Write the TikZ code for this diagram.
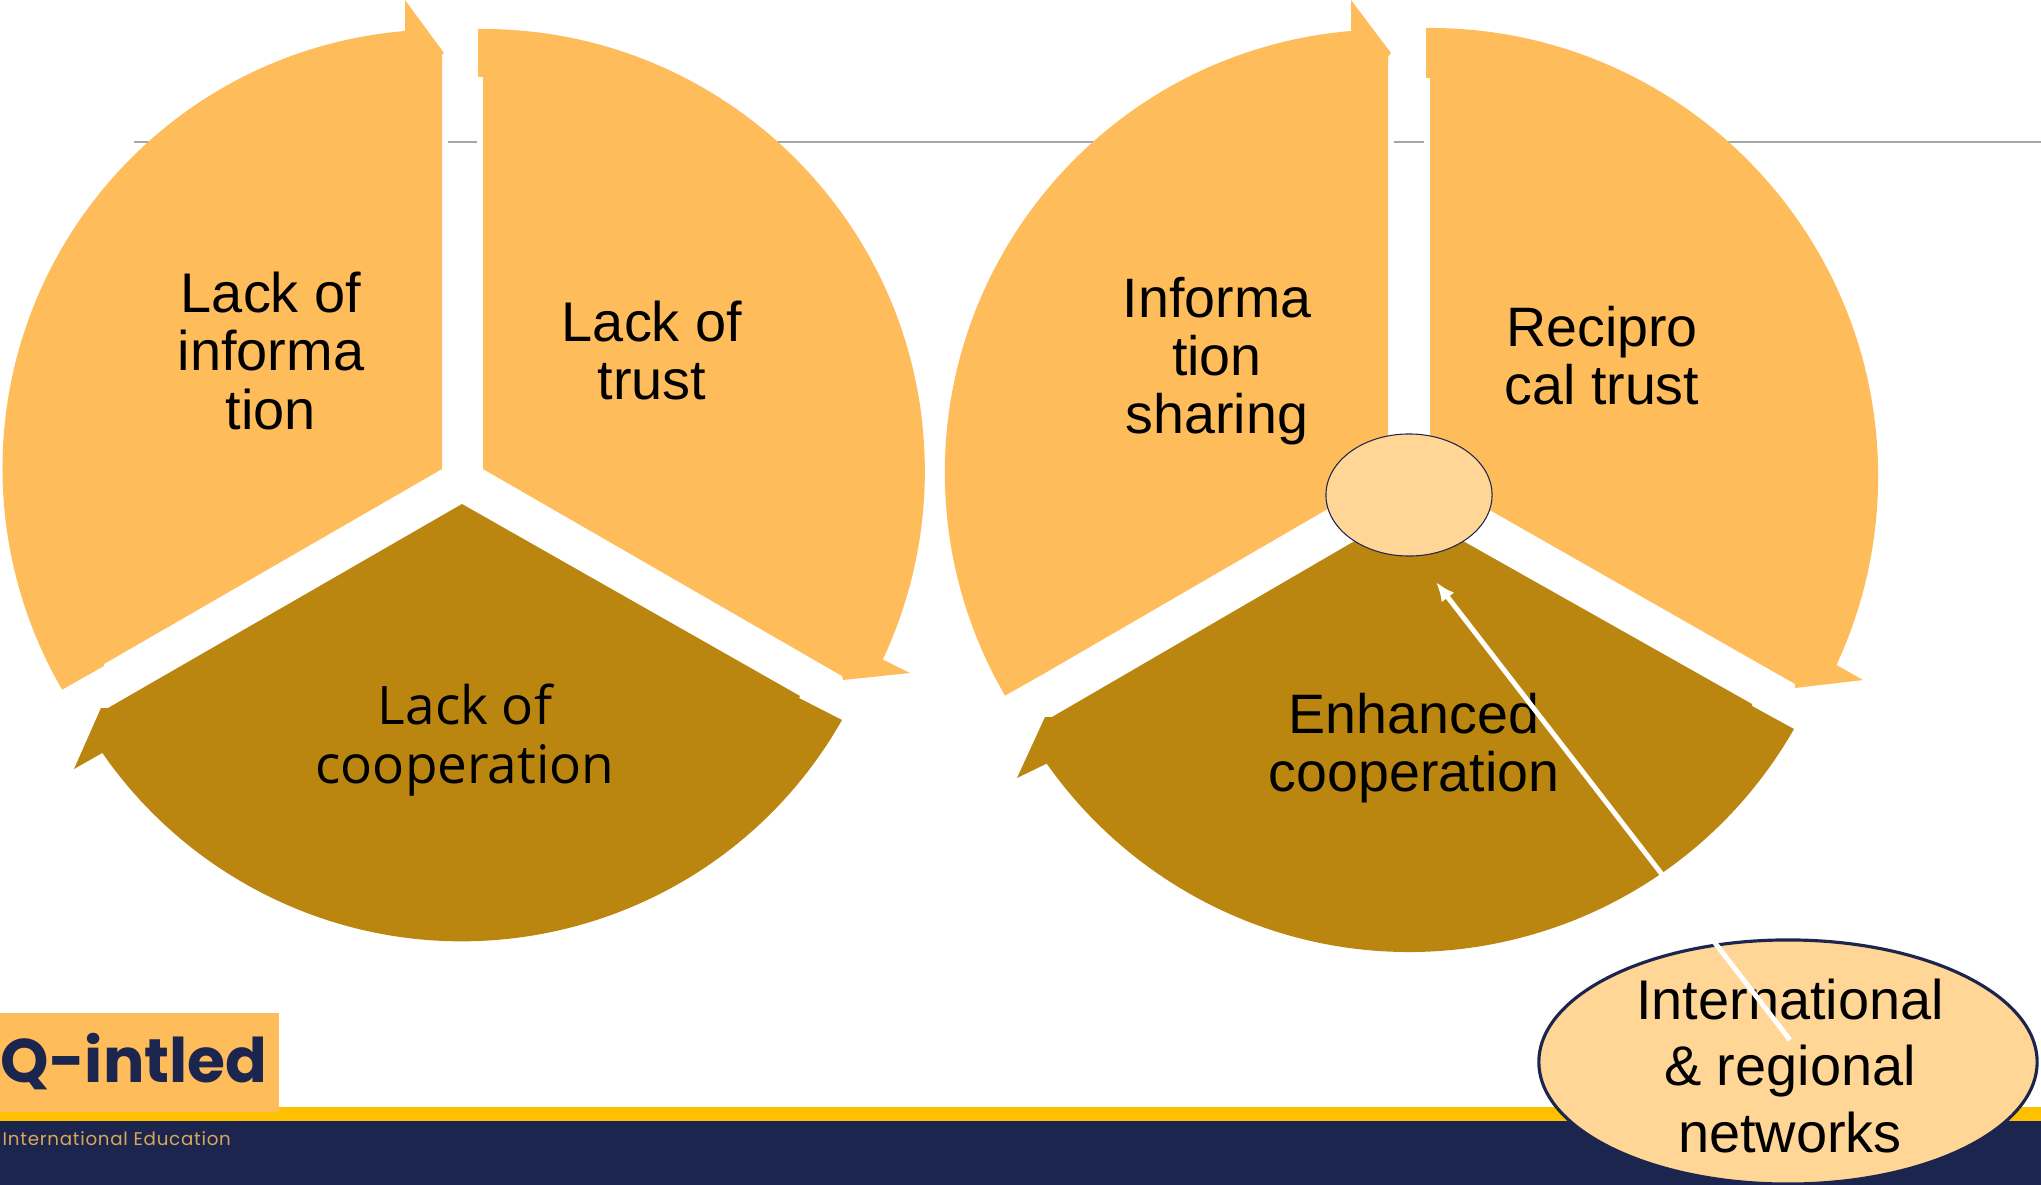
\documentclass[tikz,border=0pt]{standalone}
\usepackage{fontspec}
\setmainfont{Liberation Sans}
\newfontfamily\brownfont{Open Sans}
\newfontfamily\logofont{Poppins}
\newfontfamily\taglinefont[LetterSpace=4]{Poppins}
\usetikzlibrary{arrows.meta,positioning,shapes.geometric}
\definecolor{slicegold}{HTML}{FFBC5A}
\definecolor{slicebrown}{HTML}{BA860F}
\definecolor{palegold}{HTML}{FFD696}
\definecolor{footgold}{HTML}{FFC000}
\definecolor{footnavy}{HTML}{1B254E}
\definecolor{rulegray}{HTML}{A6A6A6}
\definecolor{subgold}{HTML}{D9A758}
\begin{document}
\begin{tikzpicture}[x=0.01cm,y=-0.01cm]
  \tikzstyle{light} = [fill=slicegold]
  \tikzstyle{dark} = [fill=slicebrown]
  \tikzstyle{rulerline} = [draw=rulegray, line width=0.8pt]
  \tikzstyle{lbl} = [align=center, inner sep=0pt, text=black, font=\fontsize{15.9}{16.5}\selectfont]
  \tikzstyle{lbltwo} = [lbl, font=\fontsize{15.8}{16.5}\selectfont]
  \tikzstyle{hub} = [ellipse, fill=palegold, draw=footnavy, inner sep=0pt]
  \useasboundingbox (0,0) rectangle (2041,1185);
  \fill[white] (0,0) rectangle (2041,1185);

  \foreach \from/\to in {134/300, 448/477, 700/1200, 1394/1424, 1600/2041}
    \draw[rulerline] (\from,142) -- (\to,142);

  \fill[footgold] (0,1107) rectangle (2041,1121);
  \fill[footnavy] (0,1120.5) rectangle (2041,1185);
  \fill[slicegold] (0,1013) rectangle (279,1112);

  \fill[light] (405,31) arc[start angle=94.8, end angle=210.2, radius=4.39cm]
    -- (104,666) -- (104,664) -- (442,469) -- (442,55) -- (444,53) -- (405,0) -- cycle;
  \fill[light] (478,29) arc[start angle=90.6, end angle=-25.2, radius=4.42cm]
    -- (910,673) -- (843,680) -- (842,676) -- (483,469) -- (483,77) -- (478,77) -- cycle;
  \fill[dark] (842,720) arc[start angle=-29.6, end angle=-145.3, radius=4.37cm]
    -- (74,769) -- (101,708) -- (108,708) -- (462,504) -- (800,696) -- (799,698) -- cycle;

  \fill[light] (1351,31) arc[start angle=94.8, end angle=210.2, radius=4.43cm]
    -- (1045,673) -- (1388,474) -- (1388,57) -- (1391,53) -- (1351,0) -- cycle;
  \fill[light] (1426,28) arc[start angle=90.5, end angle=-24.9, radius=4.48cm]
    -- (1863,680) -- (1795,688) -- (1795,684) -- (1430,476) -- (1430,78) -- (1426,78) -- cycle;
  \fill[dark] (1794,729) arc[start angle=-29.8, end angle=-144.9, radius=4.43cm]
    -- (1017,778) -- (1045,717) -- (1052,717) -- (1408,510) -- (1752,704) -- (1752,706) -- cycle;

  \node (lackinfo) [lbl] at (271,351) {Lack of\\informa\\tion};
  \node (lacktrust) [lbl] at (652,351) {Lack of\\trust};
  \node (lackcoop) [lbl, font=\brownfont\fontsize{15.1}{16.7}\selectfont] at (465,740) {Lack of\\cooperation};
  \node (infoshare) [lbltwo] at (1217,361) {Informa\\tion\\sharing};
  \node (rectrust) [lbltwo] at (1602,356) {Recipro\\cal trust};
  \node (enhcoop) [lbltwo] at (1414,748) {Enhanced\\cooperation};

  \node (hubsmall) [hub, line width=0.3pt, minimum width=1.66cm, minimum height=1.22cm] at (1409,495) {};
  \node (networks) [hub, line width=0.9pt, minimum width=4.98cm, minimum height=2.44cm] at (1788,1062) {};
  \node (networkstext) [lbl, font=\fontsize{15.9}{19}\selectfont] at (1790,1066) {International\\\& regional\\networks};

  \node (logo) [inner sep=0pt, anchor=base west, text=footnavy, font=\logofont\bfseries\fontsize{17.5}{18}\selectfont] at (0,1082) {Q-intled};
  \node (tagline) [inner sep=0pt, anchor=base west, text=subgold, font=\taglinefont\fontsize{5.2}{6}\selectfont] at (2,1145) {International Education};

  \coordinate (arrowtail) at (1790,1040);
  \coordinate (arrowhead) at (1436,582);
  \draw[white, line width=1.4pt, -{Latex[length=5.5pt,width=4.5pt]}] (arrowtail) -- (arrowhead);
\end{tikzpicture}
\end{document}
